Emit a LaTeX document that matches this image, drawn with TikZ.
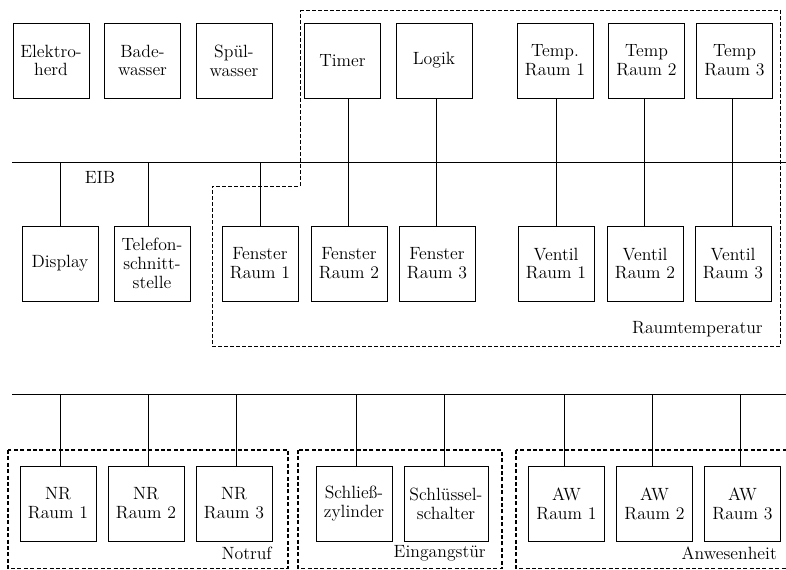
\documentclass[tikz,border=0pt]{standalone}
\usepackage{tikz}
\usetikzlibrary{positioning}

\begin{document}
\begin{tikzpicture}[
  x=0.75pt, y=-0.75pt,
  every node/.style={font=\fontsize{13.3}{14.1}\selectfont},
  device/.style={draw, line width=0.6pt, align=center, minimum width=57pt, minimum height=56.25pt, inner sep=1pt},
  line/.style={line width=0.6pt},
  area/.style={line width=0.6pt, dash pattern=on 3pt off 1.5pt},
  group/.style={line width=1.2pt, dash pattern=on 3pt off 1.8pt},
  tag/.style={anchor=east, inner sep=0pt}
]
\useasboundingbox (0,0) rectangle (786,570);
% Geraete oben
\node[device] (herd) at (51,60.5) {Elektro-\\herd};
\node[device] (bad) at (142.5,60.5) {Bade-\\wasser};
\node[device] (spuel) at (234,60.5) {Spül-\\wasser};
\node[device] (timer) at (342.5,60.5) {Timer};
\node[device] (logik) at (434,60.5) {Logik};
\node[device] (temp1) at (555,60.5) {Temp.\\Raum 1};
\node[device] (temp2) at (646.5,60.5) {Temp\\Raum 2};
\node[device] (temp3) at (734.5,60.5) {Temp\\Raum 3};
% Geraete unter dem Bus
\node[device] (disp) at (60,263.5) {Display};
\node[device] (tel) at (152,263.5) {Telefon-\\schnitt-\\stelle};
\node[device] (fen1) at (260,263.5) {Fenster\\Raum 1};
\node[device] (fen2) at (349,263.5) {Fenster\\Raum 2};
\node[device] (fen3) at (437,263.5) {Fenster\\Raum 3};
\node[device] (ventil1) at (556,263.5) {Ventil\\Raum 1};
\node[device] (ventil2) at (645,263.5) {Ventil\\Raum 2};
\node[device] (ventil3) at (733,263.5) {Ventil\\Raum 3};
% EIB
\coordinate (bus1) at (12,162);
\coordinate (bus1e) at (786,162);
\draw[line] (bus1) -- (bus1e);
\node (eib) at (100,177) {EIB};
\draw[line] (disp.north) -- (disp.north |- bus1);
\draw[line] ([xshift=-3pt]tel.north) -- ([xshift=-3pt]tel.north |- bus1);
\draw[line] (fen1.north) -- (fen1.north |- bus1);
\draw[line] ([xshift=-0.75pt]fen2.north) -- ([xshift=-0.75pt]fen2.north |- timer.south);
\draw[line] ([xshift=-0.75pt]fen3.north) -- ([xshift=-0.75pt]fen3.north |- logik.south);
\draw[line] (ventil1.north) -- (ventil1.north |- temp1.south);
\draw[line] ([xshift=-0.75pt]ventil2.north) -- ([xshift=-0.75pt]ventil2.north |- temp2.south);
\draw[line] ([xshift=-0.75pt]ventil3.north) -- ([xshift=-0.75pt]ventil3.north |- temp3.south);
\draw[area] (300,10) -- (780,10) -- (780,346) -- (212,346) -- (212,186) -- (300,186) -- cycle;
\node[tag] (raumtemp) at (763,329) {Raumtemperatur};
% zweiter Bus
\coordinate (bus2) at (12,394);
\coordinate (bus2e) at (786,394);
\draw[line] (bus2) -- (bus2e);
\node[device] (nr1) at (58,503.5) {NR\\Raum 1};
\node[device] (nr2) at (146,503.5) {NR\\Raum 2};
\node[device] (nr3) at (234,503.5) {NR\\Raum 3};
\node[device] (zyl) at (354,503.5) {Schließ-\\zylinder};
\node[device, minimum width=63pt] (schalter) at (446,503.5) {Schlüssel-\\schalter};
\node[device] (aw1) at (566.5,503.5) {AW\\Raum 1};
\node[device] (aw2) at (654.5,503.5) {AW\\Raum 2};
\node[device] (aw3) at (742.5,503.5) {AW\\Raum 3};
\draw[line] ([xshift=1.5pt]nr1.north) -- ([xshift=1.5pt]nr1.north |- bus2);
\draw[line] ([xshift=1.5pt]nr2.north) -- ([xshift=1.5pt]nr2.north |- bus2);
\draw[line] ([xshift=1.5pt]nr3.north) -- ([xshift=1.5pt]nr3.north |- bus2);
\draw[line] ([xshift=1.5pt]zyl.north) -- ([xshift=1.5pt]zyl.north |- bus2);
\draw[line] ([xshift=-1.5pt]schalter.north) -- ([xshift=-1.5pt]schalter.north |- bus2);
\draw[line] ([xshift=-1.9pt]aw1.north) -- ([xshift=-1.9pt]aw1.north |- bus2);
\draw[line] ([xshift=-1.9pt]aw2.north) -- ([xshift=-1.9pt]aw2.north |- bus2);
\draw[line] ([xshift=-1.9pt]aw3.north) -- ([xshift=-1.9pt]aw3.north |- bus2);
\draw[group] (8,450) rectangle (288,568.5);
\draw[group] (298,450) rectangle (502,568.5);
\draw[group] (516,450) rectangle (792,568.5);
\node[tag] (notruf) at (272,553) {Notruf};
\node[tag] (eingang) at (486,553) {Eingangstür};
\node[tag] (anwesend) at (777,553) {Anwesenheit};
\end{tikzpicture}
\end{document}
